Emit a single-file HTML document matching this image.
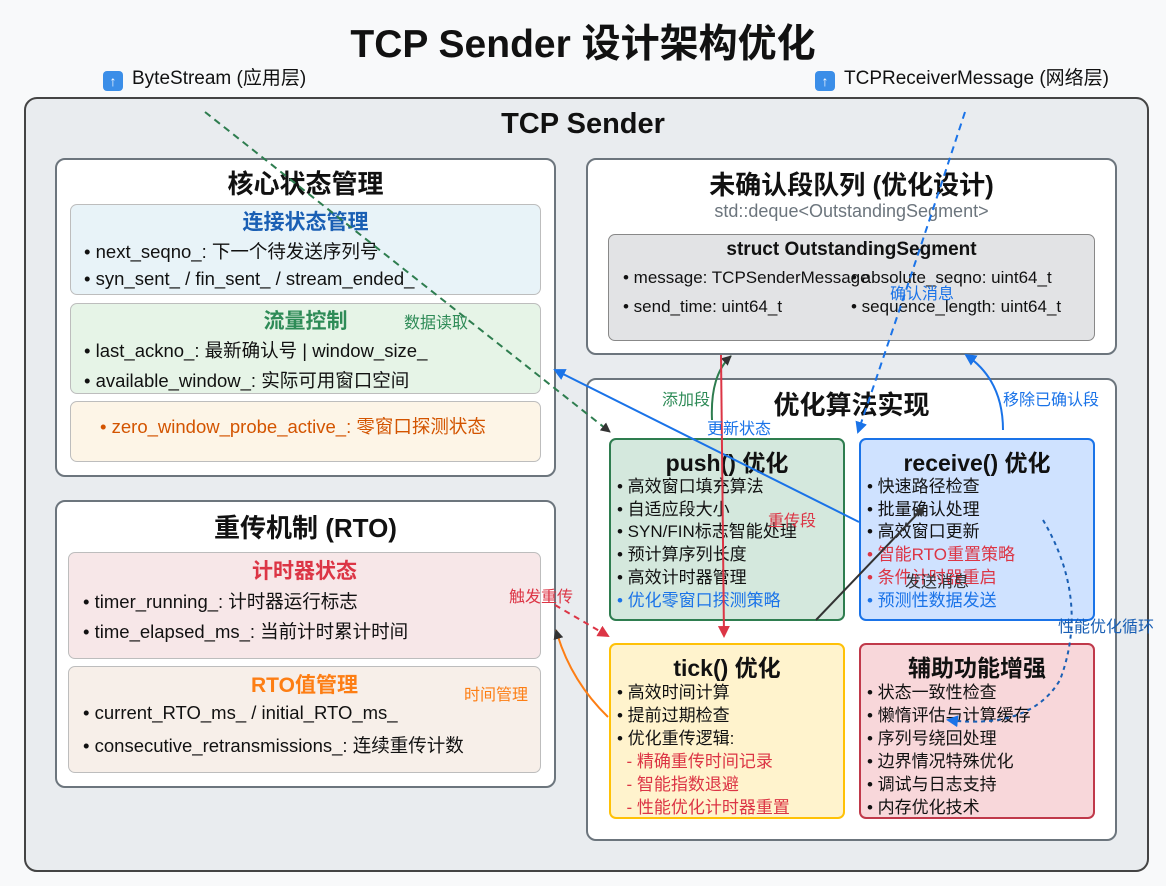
<!DOCTYPE html>
<html><head><meta charset="utf-8"><style>
*{box-sizing:border-box;margin:0;padding:0}
body{width:1166px;height:886px;background:#f8f9fa;font-family:"Liberation Sans","Noto Sans CJK SC",sans-serif;position:relative;overflow:hidden;color:#111}
.a{position:absolute}
.box{position:absolute;background:#fff;border:2px solid #6c757d;border-radius:10px}
.sub{position:absolute;border:1.5px solid #bdbdbd;border-radius:7px}
.t{position:absolute;left:0;right:0;text-align:center;font-weight:bold;white-space:nowrap}
.l{position:absolute;white-space:nowrap;font-size:18.5px}
.alg{position:absolute;border:2px solid;border-radius:7px}
.alg .t{font-size:23px;top:4px}
.alg .items{position:absolute;left:6px;top:36px;font-size:17px;line-height:22.7px;white-space:nowrap}
.ic{display:inline-block;width:20px;height:20px;background:#3b8ee8;border-radius:4px;color:#fff;font-size:14px;text-align:center;line-height:20px;vertical-align:-2px;margin-right:9px;font-weight:bold}
.lab{position:absolute;font-size:16px;white-space:nowrap}
</style></head><body>
<div class="t" style="top:13px;font-size:39px">TCP Sender 设计架构优化</div>
<div class="a" style="left:103px;top:63px;font-size:19px"><span class="ic">↑</span>ByteStream (应用层)</div>
<div class="a" style="left:815px;top:63px;font-size:19px"><span class="ic">↑</span>TCPReceiverMessage (网络层)</div>

<div class="a" style="left:24px;top:97px;width:1125px;height:775px;background:#e9ecef;border:2.5px solid #444;border-radius:13px"></div>
<div class="t" style="top:108px;font-size:29px">TCP Sender</div>

<!-- core -->
<div class="box" style="left:55px;top:158px;width:501px;height:319px">
 <div class="t" style="top:4px;font-size:26px">核心状态管理</div>
</div>
<div class="sub" style="left:70px;top:204px;width:471px;height:91px;background:#e8f3f8">
 <div class="t" style="top:1px;font-size:21px;color:#1a5fb4">连接状态管理</div>
 <div class="l" style="left:13px;top:33px">• next_seqno_: 下一个待发送序列号</div>
 <div class="l" style="left:13px;top:63px">• syn_sent_ / fin_sent_ / stream_ended_</div>
</div>
<div class="sub" style="left:70px;top:303px;width:471px;height:91px;background:#e6f4e7">
 <div class="t" style="top:1px;font-size:21px;color:#2e8b57">流量控制</div>
 <div class="l" style="left:13px;top:33px">• last_ackno_: 最新确认号 | window_size_</div>
 <div class="l" style="left:13px;top:63px">• available_window_: 实际可用窗口空间</div>
</div>
<div class="sub" style="left:70px;top:401px;width:471px;height:61px;background:#fdf5e7">
 <div class="l" style="left:29px;top:11px;color:#d35400">• zero_window_probe_active_: 零窗口探测状态</div>
</div>

<!-- rto -->
<div class="box" style="left:55px;top:500px;width:501px;height:288px">
 <div class="t" style="top:6px;font-size:26px">重传机制 (RTO)</div>
</div>
<div class="sub" style="left:68px;top:552px;width:473px;height:107px;background:#f7e7e8">
 <div class="t" style="top:2px;font-size:21px;color:#dc3545">计时器状态</div>
 <div class="l" style="left:14px;top:35px">• timer_running_: 计时器运行标志</div>
 <div class="l" style="left:14px;top:65px">• time_elapsed_ms_: 当前计时累计时间</div>
</div>
<div class="sub" style="left:68px;top:666px;width:473px;height:107px;background:#f7efe9">
 <div class="t" style="top:2px;font-size:21px;color:#fd7e14">RTO值管理</div>
 <div class="l" style="left:14px;top:35px">• current_RTO_ms_ / initial_RTO_ms_</div>
 <div class="l" style="left:14px;top:65px">• consecutive_retransmissions_: 连续重传计数</div>
</div>

<!-- queue -->
<div class="box" style="left:586px;top:158px;width:531px;height:197px">
 <div class="t" style="top:5px;font-size:26px">未确认段队列 (优化设计)</div>
 <div class="t" style="top:41px;font-size:18px;color:#6c757d;font-weight:normal">std::deque&lt;OutstandingSegment&gt;</div>
</div>
<div class="sub" style="left:608px;top:234px;width:487px;height:107px;background:#e2e3e5;border-color:#888">
 <div class="t" style="top:4px;font-size:19px">struct OutstandingSegment</div>
 <div class="l" style="left:14px;top:33px;font-size:17px">• message: TCPSenderMessage</div>
 <div class="l" style="left:242px;top:33px;font-size:17px">• absolute_seqno: uint64_t</div>
 <div class="l" style="left:14px;top:62px;font-size:17px">• send_time: uint64_t</div>
 <div class="l" style="left:242px;top:62px;font-size:17px">• sequence_length: uint64_t</div>
</div>

<!-- alg -->
<div class="box" style="left:586px;top:378px;width:531px;height:463px">
 <div class="t" style="top:5px;font-size:26px">优化算法实现</div>
</div>
<div class="alg" style="left:609px;top:438px;width:236px;height:183px;background:#d4e8dd;border-color:#2e7d4f">
 <div class="t">push() 优化</div>
 <div class="items">• 高效窗口填充算法<br>• 自适应段大小<br>• SYN/FIN标志智能处理<br>• 预计算序列长度<br>• 高效计时器管理<br><span style="color:#1a73e8">• 优化零窗口探测策略</span></div>
</div>
<div class="alg" style="left:859px;top:438px;width:236px;height:183px;background:#cfe2ff;border-color:#1a73e8">
 <div class="t">receive() 优化</div>
 <div class="items">• 快速路径检查<br>• 批量确认处理<br>• 高效窗口更新<br><span style="color:#dc3545">• 智能RTO重置策略<br>• 条件计时器重启</span><br><span style="color:#1a73e8">• 预测性数据发送</span></div>
</div>
<div class="alg" style="left:609px;top:643px;width:236px;height:176px;background:#fff3cd;border-color:#ffc107">
 <div class="t">tick() 优化</div>
 <div class="items" style="line-height:23px">• 高效时间计算<br>• 提前过期检查<br>• 优化重传逻辑:<br><span style="color:#dc3545">&nbsp;&nbsp;- 精确重传时间记录<br>&nbsp;&nbsp;- 智能指数退避<br>&nbsp;&nbsp;- 性能优化计时器重置</span></div>
</div>
<div class="alg" style="left:859px;top:643px;width:236px;height:176px;background:#f8d7da;border-color:#c0394a">
 <div class="t">辅助功能增强</div>
 <div class="items" style="line-height:23px">• 状态一致性检查<br>• 懒惰评估与计算缓存<br>• 序列号绕回处理<br>• 边界情况特殊优化<br>• 调试与日志支持<br>• 内存优化技术</div>
</div>

<svg class="a" style="left:0;top:0" width="1166" height="886">
<defs>
<marker id="mk" markerWidth="10" markerHeight="10" refX="9" refY="5" orient="auto" markerUnits="userSpaceOnUse"><path d="M0,0L10,5L0,10z" fill="#333"/></marker>
<marker id="mb" markerWidth="12" markerHeight="12" refX="10" refY="6" orient="auto" markerUnits="userSpaceOnUse"><path d="M0,0L12,6L0,12z" fill="#1a73e8"/></marker>
<marker id="mr" markerWidth="12" markerHeight="12" refX="10" refY="6" orient="auto" markerUnits="userSpaceOnUse"><path d="M0,0L12,6L0,12z" fill="#dc3545"/></marker>
</defs>
<path d="M205,112 L610,432" stroke="#2e7d4f" stroke-width="2" stroke-dasharray="7,5" fill="none" marker-end="url(#mk)"/>
<path d="M965,112 Q910,280 858,432" stroke="#1a73e8" stroke-width="2" stroke-dasharray="7,5" fill="none" marker-end="url(#mb)"/>
<path d="M859,522 L555,370" stroke="#1a73e8" stroke-width="2" fill="none" marker-end="url(#mb)"/>
<path d="M712,420 Q710,375 731,356" stroke="#2e7d4f" stroke-width="2" fill="none" marker-end="url(#mk)"/>
<path d="M721,355 L724,636" stroke="#dc3545" stroke-width="2" fill="none" marker-end="url(#mr)"/>
<path d="M1003,430 Q1003,380 966,355" stroke="#1a73e8" stroke-width="2" fill="none" marker-end="url(#mb)"/>
<path d="M816,620 L924,507" stroke="#333" stroke-width="2" fill="none" marker-end="url(#mk)"/>
<path d="M555,605 L608,636" stroke="#dc3545" stroke-width="2" stroke-dasharray="6,5" fill="none" marker-end="url(#mr)"/>
<path d="M608,717 Q570,680 556,630" stroke="#fd7e14" stroke-width="2" fill="none" marker-end="url(#mk)"/>
<path d="M1043,520 Q1090,600 1060,680 Q1030,730 948,720" stroke="#1a5fb4" stroke-width="2" stroke-dasharray="4,4" fill="none" marker-end="url(#mb)"/>
</svg>
<div class="lab" style="left:404px;top:309px;color:#2e8b57">数据读取</div>
<div class="lab" style="left:890px;top:280px;color:#1a73e8">确认消息</div>
<div class="lab" style="left:707px;top:415px;color:#1a73e8">更新状态</div>
<div class="lab" style="left:662px;top:386px;color:#2e8b57">添加段</div>
<div class="lab" style="left:768px;top:507px;color:#dc3545">重传段</div>
<div class="lab" style="left:1003px;top:386px;color:#1a73e8">移除已确认段</div>
<div class="lab" style="left:905px;top:568px;color:#333">发送消息</div>
<div class="lab" style="left:509px;top:583px;color:#dc3545">触发重传</div>
<div class="lab" style="left:464px;top:681px;color:#fd7e14">时间管理</div>
<div class="lab" style="left:1058px;top:613px;color:#1a5fb4">性能优化循环</div>
</body></html>
